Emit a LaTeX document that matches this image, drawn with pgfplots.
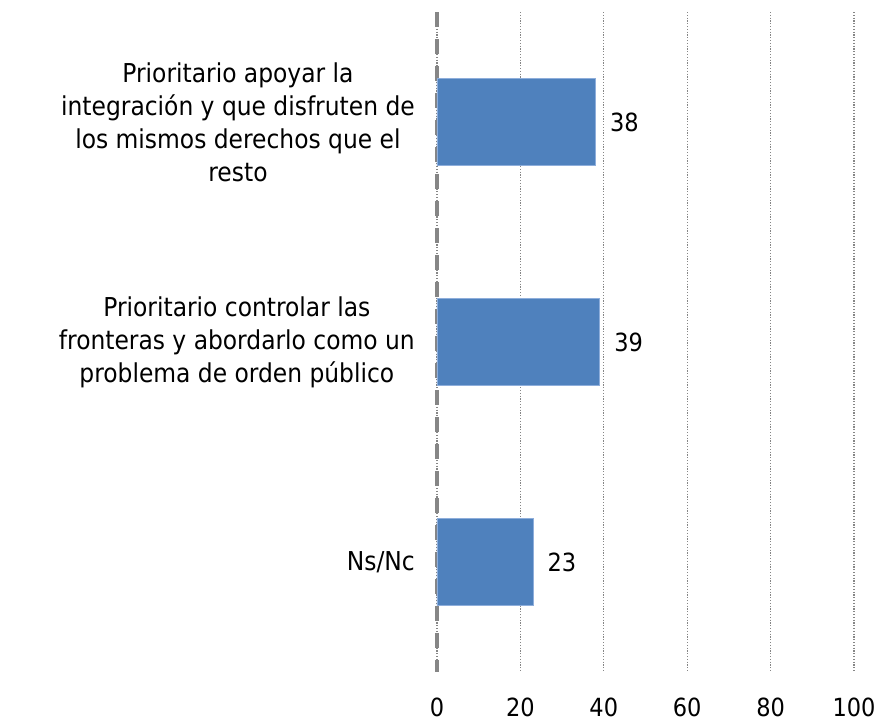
\documentclass[border=0pt]{standalone}
\usepackage{pgfplots}
\pgfplotsset{compat=1.18}
\usepackage{fontspec}
\setmainfont{DejaVu Sans Condensed}
\definecolor{barblue}{HTML}{4F81BD}
\definecolor{baredge}{HTML}{8EAEDB}
\definecolor{gridgray}{HTML}{868686}
\begin{document}
\begin{tikzpicture}
\useasboundingbox (-437bp,-50bp) rectangle (441bp,672bp);
\begin{axis}[
  at={(0,0)}, anchor=south west,
  scale only axis,
  width=417bp, height=660bp,
  xmin=0, xmax=100,
  ymin=-0.5, ymax=2.5,
  y dir=reverse,
  xbar,
  bar width=87bp,
  axis line style={draw=none},
  major tick length=0pt,
  xtick={0,20,40,60,80,100},
  ytick={0,1,2},
  yticklabels={{Prioritario apoyar la\\integración y que disfruten de\\los mismos derechos que el\\resto},{Prioritario controlar las\\fronteras y abordarlo como un\\problema de orden público},{Ns/Nc}},
  yticklabel style={align=center, font=\fontsize{26bp}{33bp}\selectfont, inner sep=0pt, xshift=-22bp},
  xticklabel style={font=\fontsize{25bp}{28bp}\selectfont, yshift=-22bp},
  /pgf/number format/assume math mode=true,
  xmajorgrids,
  grid style={gridgray, line width=1.2bp, dash pattern=on 1.2bp off 1.6bp},
  nodes near coords,
  nodes near coords style={font=\fontsize{25bp}{28bp}\selectfont, black, xshift=11bp},
  clip=false,
]
\draw[gridgray, line width=3.5bp, dash pattern=on 15bp off 12bp] (axis cs:0,-0.5) -- (axis cs:0,2.5);
\addplot[fill=barblue, draw=baredge, line width=0.8bp] coordinates {(38,0) (39,1) (23,2)};
\end{axis}
\end{tikzpicture}
\end{document}
